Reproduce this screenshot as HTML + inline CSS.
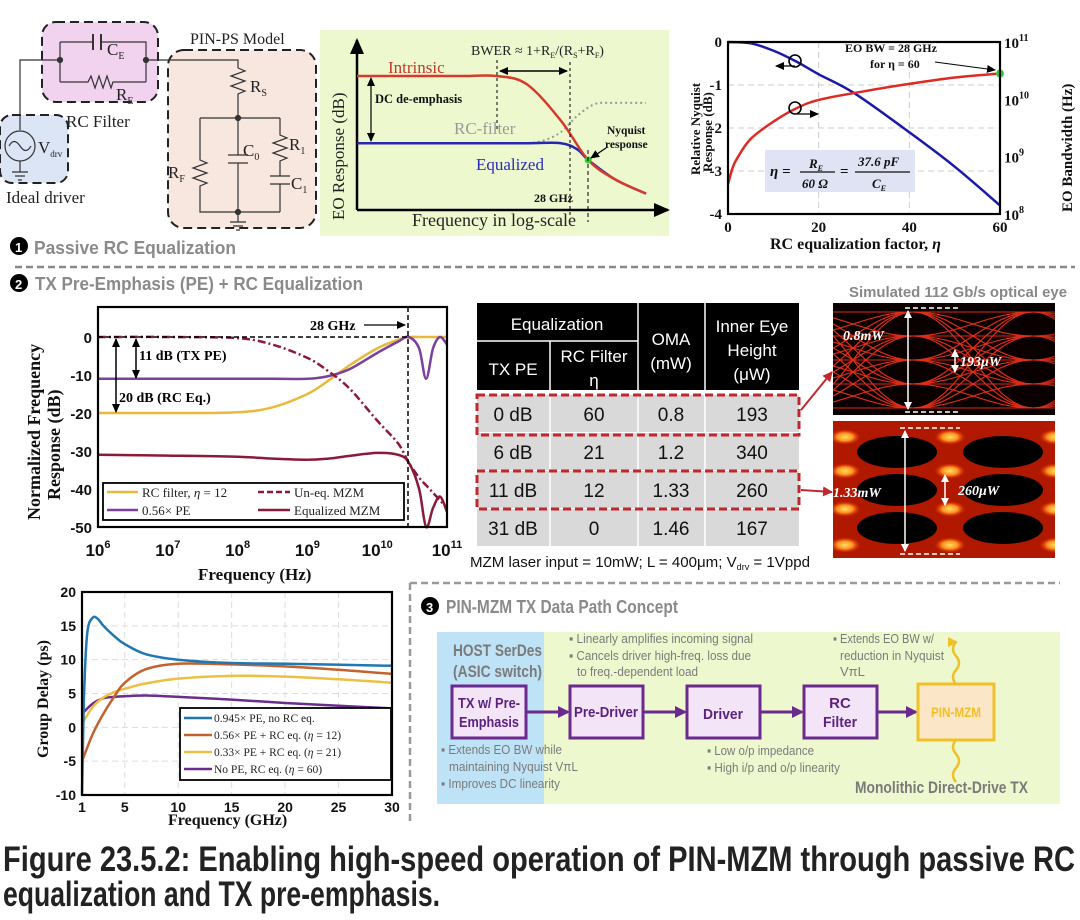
<!DOCTYPE html>
<html><head><meta charset="utf-8">
<style>
html,body{margin:0;padding:0;background:#fff;}
svg{display:block;}
.sf{font-family:"Liberation Serif","DejaVu Serif",serif;}
.ss{font-family:"Liberation Sans Narrow","Liberation Sans","DejaVu Sans Condensed",sans-serif;}
</style></head>
<body>
<svg id="fig" width="1080" height="920" viewBox="0 0 1080 920" xmlns="http://www.w3.org/2000/svg">
<defs>
<marker id="ah" markerUnits="userSpaceOnUse" markerWidth="9" markerHeight="8" refX="8" refY="4" orient="auto-start-reverse"><path d="M0,0 L9,4 L0,8 z" fill="#000"/></marker>
<marker id="ahb" markerUnits="userSpaceOnUse" markerWidth="16" markerHeight="14" refX="14" refY="7" orient="auto"><path d="M0,0 L16,7 L0,14 z" fill="#000"/></marker>
<marker id="ahw" markerUnits="userSpaceOnUse" markerWidth="8" markerHeight="8" refX="7" refY="4" orient="auto-start-reverse"><path d="M0,0 L8,4 L0,8 z" fill="#fff"/></marker>
<marker id="ahr" markerUnits="userSpaceOnUse" markerWidth="10" markerHeight="10" refX="9" refY="5" orient="auto"><path d="M0,0 L10,5 L0,10 z" fill="#c0282d"/></marker>
<marker id="ahp" markerUnits="userSpaceOnUse" markerWidth="12" markerHeight="12" refX="10" refY="6" orient="auto"><path d="M0,0 L12,6 L0,12 z" fill="#6a2a8e"/></marker>
<marker id="ahy" markerUnits="userSpaceOnUse" markerWidth="10" markerHeight="10" refX="8" refY="5" orient="auto"><path d="M0,0 L10,5 L0,10 z" fill="#f0c028"/></marker>
<radialGradient id="eyeglow" cx="50%" cy="50%" r="50%"><stop offset="0" stop-color="#ffe060"/><stop offset="0.5" stop-color="#ff9020"/><stop offset="1" stop-color="#e02000" stop-opacity="0"/></radialGradient>
</defs>

<!-- ============ CIRCUIT ============ -->
<g class="sf" stroke="#333" fill="none" stroke-width="1.2">
  <rect x="42" y="22" width="116" height="80" rx="14" fill="#f1d3ef" stroke="#222" stroke-width="2" stroke-dasharray="9,5"/>
  <rect x="168" y="50" width="148" height="178" rx="16" fill="#f8e7df" stroke="#222" stroke-width="2" stroke-dasharray="9,5"/>
  <rect x="0" y="115" width="68" height="68" rx="12" fill="#dbe5f5" stroke="#222" stroke-width="2" stroke-dasharray="9,5"/>
  <path d="M20,130 V60 H60 M60,42 V60 V82 M60,42 H93 M101,42 H146 V82 M60,82 H88 L91,76 L95,88 L99,76 L103,88 L107,76 L111,88 L113,82 H146 M146,60 H238 V68"/>
  <path d="M93,34 V50 M101,34 V50" stroke-width="2"/>
  <path d="M238,68 L245,71 L231,76 L245,81 L231,86 L245,91 L238,94 V118 M200,118 H280 M200,118 V160 L207,163 L193,168 L207,173 L193,178 L207,183 L200,186 V212 H280 M238,118 V155 M228,155 H248 M228,163 H248 M238,163 V212 M280,118 V135 L287,138 L273,143 L287,148 L273,153 L287,158 L280,161 V176 M270,176 H290 M270,184 H290 M280,184 V212 M238,212 V222 M230,222 H246 M233,226 H243 M236,230 H240"/>
  <circle cx="60" cy="60" r="2.5" fill="#333"/><circle cx="146" cy="60" r="2.5" fill="#333"/><circle cx="238" cy="118" r="2.5" fill="#333"/><circle cx="238" cy="212" r="2.5" fill="#333"/>
  <circle cx="20" cy="146" r="15"/>
  <path d="M9,146 q5,-9 11,0 q6,9 11,0"/>
  <path d="M20,161 V172 M12,172 H28 M15,176 H25 M18,180 H22"/>
  <g fill="#222" stroke="none" font-size="17">
    <text x="107" y="55">C<tspan font-size="10" dy="4">E</tspan></text>
    <text x="116" y="100">R<tspan font-size="10" dy="4">E</tspan></text>
    <text x="66" y="127">RC Filter</text>
    <text x="38" y="153">V<tspan font-size="9" dy="4">drv</tspan></text>
    <text x="6" y="203">Ideal driver</text>
    <text x="190" y="44" font-size="16">PIN-PS Model</text>
    <text x="250" y="92">R<tspan font-size="10" dy="4">S</tspan></text>
    <text x="168" y="178">R<tspan font-size="10" dy="4">F</tspan></text>
    <text x="243" y="156">C<tspan font-size="10" dy="4">0</tspan></text>
    <text x="289" y="150">R<tspan font-size="10" dy="4">1</tspan></text>
    <text x="291" y="189">C<tspan font-size="10" dy="4">1</tspan></text>
  </g>
</g>

<!-- ============ CONCEPT CHART ============ -->
<g class="sf">
  <rect x="320" y="30" width="349" height="206" fill="#eef8cf"/>
  <line x1="357" y1="210" x2="357" y2="40" stroke="#000" stroke-width="2.5" marker-end="url(#ahb)"/>
  <line x1="357" y1="210" x2="668" y2="210" stroke="#000" stroke-width="2.5" marker-end="url(#ahb)"/>
  <g id="conceptSeries"></g>
  <line x1="497" y1="60" x2="497" y2="130" stroke="#000" stroke-dasharray="3,3"/>
  <line x1="570" y1="62" x2="570" y2="218" stroke="#000" stroke-dasharray="3,3"/>
  <line x1="588" y1="150" x2="588" y2="222" stroke="#000" stroke-dasharray="4,3"/>
  <line x1="500" y1="71" x2="567" y2="71" stroke="#000" stroke-width="1.5" marker-end="url(#ah)" marker-start="url(#ah)"/>
  <line x1="371" y1="78" x2="371" y2="141" stroke="#000" stroke-width="1.2" marker-end="url(#ah)" marker-start="url(#ah)"/>
  <line x1="606" y1="148" x2="591" y2="158" stroke="#000" stroke-width="1.2" marker-end="url(#ah)"/>
  <text x="344" y="220" transform="rotate(-90 344 220)" font-size="17" fill="#222">EO Response (dB)</text>
  <text x="412" y="226" font-size="18" fill="#222">Frequency in log-scale</text>
  <text x="471" y="55" font-size="14" fill="#222">BWER ≈ 1+R<tspan font-size="8" dy="3">E</tspan><tspan dy="-3">/(R</tspan><tspan font-size="8" dy="3">S</tspan><tspan dy="-3">+R</tspan><tspan font-size="8" dy="3">F</tspan><tspan dy="-3">)</tspan></text>
  <text x="388" y="73" font-size="17" fill="#c0392b">Intrinsic</text>
  <text x="375" y="103" font-size="12.5" font-weight="bold" fill="#111">DC de-emphasis</text>
  <text x="454" y="134" font-size="17" fill="#999">RC-filter</text>
  <text x="476" y="170" font-size="17" fill="#2a2ab5">Equalized</text>
  <text x="607" y="134" font-size="11.5" font-weight="bold" fill="#111">Nyquist</text>
  <text x="605" y="148" font-size="11.5" font-weight="bold" fill="#111">response</text>
  <text x="534" y="202" font-size="12" font-weight="bold" fill="#111">28 GHz</text>
</g>

<!-- ============ TOP RIGHT CHART ============ -->
<g class="sf">
  <g id="etaGrid"></g>
  <g id="etaSeries"></g>
  <rect x="728" y="42" width="272" height="172" fill="none" stroke="#000" stroke-width="2.2"/>
  <g id="etaTicks" font-weight="bold" font-size="15" fill="#111"></g>
  <rect x="765" y="150" width="150" height="42" fill="#dfe3f4"/>
  <text x="770" y="176" font-size="15" font-style="italic" font-weight="bold" fill="#111">η =</text>
  <text x="809" y="168" font-size="13" font-style="italic" font-weight="bold" fill="#111">R<tspan font-size="8" dy="3">E</tspan></text>
  <line x1="800" y1="172" x2="835" y2="172" stroke="#111" stroke-width="1.2"/>
  <text x="802" y="188" font-size="13" font-style="italic" font-weight="bold" fill="#111">60 Ω</text>
  <text x="840" y="176" font-size="15" font-weight="bold" fill="#111">=</text>
  <text x="858" y="166" font-size="13" font-style="italic" font-weight="bold" fill="#111">37.6 pF</text>
  <line x1="855" y1="172" x2="910" y2="172" stroke="#111" stroke-width="1.2"/>
  <text x="872" y="188" font-size="13" font-style="italic" font-weight="bold" fill="#111">C<tspan font-size="8" dy="3">E</tspan></text>
  <text x="845" y="52" font-size="12" font-weight="bold" fill="#111">EO BW = 28 GHz</text>
  <text x="870" y="68" font-size="12" font-weight="bold" fill="#111">for η = 60</text>
  <line x1="935" y1="62" x2="995" y2="70" stroke="#000" stroke-width="1" marker-end="url(#ah)"/>
  <circle cx="795" cy="61" r="6" fill="none" stroke="#000" stroke-width="1.6"/>
  <line x1="795" y1="66" x2="776" y2="66" stroke="#000" stroke-width="1.2" marker-end="url(#ah)"/>
  <circle cx="795" cy="108" r="6" fill="none" stroke="#000" stroke-width="1.6"/>
  <line x1="797" y1="114" x2="818" y2="114" stroke="#000" stroke-width="1.2" marker-end="url(#ah)"/>
  <text x="700" y="175" transform="rotate(-90 700 175)" font-size="13" font-weight="bold" fill="#111">Relative Nyquist</text>
  <text x="712" y="172" transform="rotate(-90 712 172)" font-size="13" font-weight="bold" fill="#111">Response (dB)</text>
  <text x="1072" y="212" transform="rotate(-90 1072 212)" font-size="15" font-weight="bold" fill="#111">EO Bandwidth (Hz)</text>
  <text x="770" y="249" font-size="16" font-weight="bold" fill="#111">RC equalization factor, <tspan font-style="italic">η</tspan></text>
</g>

<!-- ============ SECTION LABELS ============ -->
<g class="ss" font-weight="bold" fill="#8a8a8a" font-size="18">
  <circle cx="19" cy="246" r="9" fill="#000"/>
  <text x="15" y="252" font-size="13" fill="#fff">1</text>
  <text x="34" y="254" textLength="202" lengthAdjust="spacingAndGlyphs">Passive RC Equalization</text>
  <line x1="15" y1="267" x2="1075" y2="267" stroke="#888" stroke-width="2.5" stroke-dasharray="7,4"/>
  <circle cx="19" cy="283" r="9" fill="#000"/>
  <text x="15" y="289" font-size="13" fill="#fff">2</text>
  <text x="35" y="290" textLength="328" lengthAdjust="spacingAndGlyphs">TX Pre-Emphasis (PE) + RC Equalization</text>
</g>

<!-- ============ FREQ RESPONSE CHART ============ -->
<g class="sf">
  <g id="frSeries"></g>
  <rect x="98" y="307" width="349" height="220" fill="none" stroke="#000" stroke-width="2.2"/>
  <g id="frTicks" font-weight="bold" font-size="15" fill="#111"></g>
  <line x1="408" y1="307" x2="408" y2="527" stroke="#000" stroke-width="1.5" stroke-dasharray="5,3"/>
  <line x1="98" y1="337" x2="408" y2="337" stroke="#000" stroke-width="1.5" stroke-dasharray="5,3"/>
  <text x="310" y="330" font-size="14" font-weight="bold">28 GHz</text>
  <line x1="364" y1="325" x2="405" y2="325" stroke="#000" stroke-width="1.3" marker-end="url(#ah)"/>
  <line x1="136" y1="339" x2="136" y2="378" stroke="#000" stroke-width="1.5" marker-end="url(#ah)" marker-start="url(#ah)"/>
  <line x1="116" y1="339" x2="116" y2="412" stroke="#000" stroke-width="1.5" marker-end="url(#ah)" marker-start="url(#ah)"/>
  <text x="139" y="360" font-size="14" font-weight="bold">11 dB (TX PE)</text>
  <text x="119" y="402" font-size="14" font-weight="bold">20 dB (RC Eq.)</text>
  <rect x="103" y="483" width="301" height="37" fill="#fff" stroke="#000" stroke-width="1.8"/>
  <g font-size="13" fill="#222">
    <line x1="107" y1="492" x2="138" y2="492" stroke="#e8b93a" stroke-width="2.5"/><text x="142" y="497">RC filter, <tspan font-style="italic">η</tspan> = 12</text>
    <line x1="107" y1="510" x2="138" y2="510" stroke="#7b3f9c" stroke-width="2.5"/><text x="142" y="515">0.56× PE</text>
    <line x1="258" y1="492" x2="290" y2="492" stroke="#8b1a3a" stroke-width="2.5" stroke-dasharray="6,3"/><text x="294" y="497">Un-eq. MZM</text>
    <line x1="258" y1="510" x2="290" y2="510" stroke="#8b1a3a" stroke-width="2.5"/><text x="294" y="515">Equalized MZM</text>
  </g>
  <text x="40" y="520" transform="rotate(-90 40 520)" font-size="18" font-weight="bold" fill="#111">Normalized Frequency</text>
  <text x="60" y="500" transform="rotate(-90 60 500)" font-size="18" font-weight="bold" fill="#111">Response (dB)</text>
  <text x="198" y="580" font-size="17" font-weight="bold" fill="#111">Frequency (Hz)</text>
</g>

<!-- ============ TABLE ============ -->
<g class="ss" font-size="17" text-anchor="middle">
  <rect x="477" y="303" width="322" height="87" fill="#000"/>
  <line x1="477" y1="341" x2="638" y2="341" stroke="#fff" stroke-width="1.5"/>
  <line x1="550" y1="341" x2="550" y2="390" stroke="#fff" stroke-width="1.5"/>
  <line x1="638" y1="303" x2="638" y2="390" stroke="#fff" stroke-width="1.5"/>
  <line x1="705" y1="303" x2="705" y2="390" stroke="#fff" stroke-width="1.5"/>
  <g fill="#fff">
    <text x="557" y="330">Equalization</text>
    <text x="513" y="375">TX PE</text>
    <text x="594" y="362">RC Filter</text><text x="594" y="386">η</text>
    <text x="671" y="345">OMA</text><text x="671" y="369">(mW)</text>
    <text x="752" y="332">Inner Eye</text><text x="752" y="356">Height</text><text x="752" y="380">(μW)</text>
  </g>
  <g id="tableRows" fill="#111" font-size="19"></g>
  <rect x="477" y="395" width="322" height="40" fill="none" stroke="#c0282d" stroke-width="3" stroke-dasharray="8,4"/>
  <rect x="477" y="471" width="322" height="38" fill="none" stroke="#c0282d" stroke-width="3" stroke-dasharray="8,4"/>
  <line x1="801" y1="410" x2="832" y2="372" stroke="#c0282d" stroke-width="2" marker-end="url(#ahr)"/>
  <line x1="801" y1="490" x2="832" y2="492" stroke="#c0282d" stroke-width="2" marker-end="url(#ahr)"/>
  <text x="640" y="567" font-size="15" fill="#111" textLength="340" lengthAdjust="spacingAndGlyphs">MZM laser input = 10mW; L = 400μm; V<tspan font-size="9" dy="3">drv</tspan><tspan dy="-3"> = 1Vppd</tspan></text>
</g>

<!-- ============ EYES ============ -->
<g>
  <text x="958" y="297" class="ss" font-size="15" font-weight="bold" fill="#888" text-anchor="middle" textLength="218" lengthAdjust="spacingAndGlyphs">Simulated 112 Gb/s optical eye</text>
  <clipPath id="c1"><rect x="833" y="303" width="222" height="112"/></clipPath>
  <clipPath id="c2"><rect x="833" y="421" width="222" height="137"/></clipPath>
  <rect x="833" y="303" width="222" height="112" fill="#0a0000"/>
  <g id="eye1" clip-path="url(#c1)"></g>
  <rect x="833" y="421" width="222" height="137" fill="#b01800"/>
  <g id="eye2" clip-path="url(#c2)"></g>
  <g stroke="#fff" stroke-width="1.5" fill="none">
    <path d="M905,308 H960 M905,412 H960" stroke-dasharray="5,3"/>
    <line x1="908" y1="311" x2="908" y2="409" marker-start="url(#ahw)" marker-end="url(#ahw)"/>
    <line x1="955" y1="350" x2="955" y2="372" marker-start="url(#ahw)" marker-end="url(#ahw)"/>
    <path d="M900,428 H960 M900,554 H960" stroke-dasharray="5,3"/>
    <line x1="905" y1="431" x2="905" y2="551" marker-start="url(#ahw)" marker-end="url(#ahw)"/>
    <line x1="945" y1="475" x2="945" y2="505" marker-start="url(#ahw)" marker-end="url(#ahw)"/>
  </g>
  <g class="sf" font-style="italic" font-weight="bold" font-size="14" fill="#fff">
    <text x="843" y="340">0.8mW</text><text x="960" y="366">193μW</text>
    <text x="833" y="497">1.33mW</text><text x="958" y="495">260μW</text>
  </g>
</g>

<!-- ============ GROUP DELAY CHART ============ -->
<g class="sf">
  <g id="gdGrid"></g>
  <g id="gdSeries"></g>
  <rect x="82" y="592" width="310" height="203" fill="none" stroke="#000" stroke-width="2.2"/>
  <g id="gdTicks" font-weight="bold" font-size="14" fill="#111" class="ss"></g>
  <rect x="180" y="708" width="211" height="72" fill="#fff" stroke="#000" stroke-width="1.8"/>
  <g font-size="11.5" fill="#222">
    <line x1="184" y1="718" x2="212" y2="718" stroke="#1f77b4" stroke-width="2.5"/><text x="214" y="722">0.945× PE, no RC eq.</text>
    <line x1="184" y1="735" x2="212" y2="735" stroke="#c2622d" stroke-width="2.5"/><text x="214" y="739">0.56× PE + RC eq. (<tspan font-style="italic">η</tspan> = 12)</text>
    <line x1="184" y1="752" x2="212" y2="752" stroke="#ecc043" stroke-width="2.5"/><text x="214" y="756">0.33× PE + RC eq. (<tspan font-style="italic">η</tspan> = 21)</text>
    <line x1="184" y1="769" x2="212" y2="769" stroke="#6b2d8c" stroke-width="2.5"/><text x="214" y="773">No PE, RC eq. (<tspan font-style="italic">η</tspan> = 60)</text>
  </g>
  <text x="48" y="758" transform="rotate(-90 48 758)" font-size="16" font-weight="bold" fill="#111">Group Delay (ps)</text>
  <text x="168" y="825" font-size="16" font-weight="bold" fill="#111">Frequency (GHz)</text>
</g>

<!-- ============ DATA PATH ============ -->
<g class="ss">
  <path d="M410,583 H1060 M410,583 V825" stroke="#999" stroke-width="2.5" stroke-dasharray="7,4" fill="none"/>
  <circle cx="430" cy="606" r="9" fill="#000"/>
  <text x="426" y="612" font-size="13" font-weight="bold" fill="#fff">3</text>
  <text x="446" y="613" font-size="18" font-weight="bold" fill="#8a8a8a" textLength="232" lengthAdjust="spacingAndGlyphs">PIN-MZM TX Data Path Concept</text>
  <rect x="437" y="632" width="107" height="172" fill="#bfe3f6"/>
  <rect x="544" y="632" width="516" height="172" fill="#eef8cf"/>
  <g fill="#7a7a7a" font-weight="bold" font-size="17">
    <text x="453" y="656" textLength="89" lengthAdjust="spacingAndGlyphs">HOST SerDes</text>
    <text x="453" y="677" textLength="89" lengthAdjust="spacingAndGlyphs">(ASIC switch)</text>
    <text x="855" y="793" textLength="173" lengthAdjust="spacingAndGlyphs">Monolithic Direct-Drive TX</text>
  </g>
  <g fill="#7a7a7a" font-size="13">
    <text x="569" y="643" textLength="184" lengthAdjust="spacingAndGlyphs">▪ Linearly amplifies incoming signal</text>
    <text x="569" y="660" textLength="182" lengthAdjust="spacingAndGlyphs">▪ Cancels driver high-freq. loss due</text>
    <text x="577" y="676" textLength="121" lengthAdjust="spacingAndGlyphs">to freq.-dependent load</text>
    <text x="833" y="643" textLength="101" lengthAdjust="spacingAndGlyphs">▪ Extends EO BW w/</text>
    <text x="840" y="660" textLength="104" lengthAdjust="spacingAndGlyphs">reduction in Nyquist</text>
    <text x="840" y="676">VπL</text>
    <text x="441" y="754" textLength="121" lengthAdjust="spacingAndGlyphs">▪ Extends EO BW while</text>
    <text x="449" y="771" textLength="129" lengthAdjust="spacingAndGlyphs">maintaining Nyquist VπL</text>
    <text x="441" y="788" textLength="119" lengthAdjust="spacingAndGlyphs">▪ Improves DC linearity</text>
    <text x="707" y="755" textLength="107" lengthAdjust="spacingAndGlyphs">▪ Low o/p impedance</text>
    <text x="707" y="772" textLength="133" lengthAdjust="spacingAndGlyphs">▪ High i/p and o/p linearity</text>
  </g>
  <g stroke="#6a2a8e" stroke-width="3" fill="none">
    <line x1="526" y1="712" x2="568" y2="712" marker-end="url(#ahp)"/>
    <line x1="643" y1="712" x2="685" y2="712" marker-end="url(#ahp)"/>
    <line x1="760" y1="712" x2="802" y2="712" marker-end="url(#ahp)"/>
    <line x1="877" y1="712" x2="916" y2="712" marker-end="url(#ahp)"/>
  </g>
  <g stroke="#6a2a8e" stroke-width="3" fill="#f4e4f8">
    <rect x="452" y="686" width="74" height="52"/>
    <rect x="570" y="686" width="73" height="52"/>
    <rect x="687" y="686" width="73" height="52"/>
    <rect x="804" y="686" width="73" height="52"/>
  </g>
  <rect x="918" y="684" width="76" height="56" fill="#fbe7c8" stroke="#f0c028" stroke-width="3"/>
  <path d="M956,684 q-6,-7 0,-14 q6,-7 0,-14 q-6,-7 0,-14 V642" stroke="#f0c028" stroke-width="2.5" fill="none" marker-end="url(#ahy)"/>
  <path d="M956,740 q-6,7 0,14 q6,7 0,14 q-6,7 0,14" stroke="#f0c028" stroke-width="2.5" fill="none"/>
  <g font-weight="bold" font-size="15" fill="#5b2380" text-anchor="middle">
    <text x="489" y="708" textLength="62" lengthAdjust="spacingAndGlyphs">TX w/ Pre-</text><text x="489" y="727" textLength="60" lengthAdjust="spacingAndGlyphs">Emphasis</text>
    <text x="606" y="717" textLength="64" lengthAdjust="spacingAndGlyphs">Pre-Driver</text>
    <text x="723" y="719" textLength="40" lengthAdjust="spacingAndGlyphs">Driver</text>
    <text x="840" y="708">RC</text><text x="840" y="727" textLength="34" lengthAdjust="spacingAndGlyphs">Filter</text>
    <text x="956" y="717" fill="#f0c028" font-size="14" textLength="50" lengthAdjust="spacingAndGlyphs">PIN-MZM</text>
  </g>
</g>

<!-- ============ CAPTION ============ -->
<g class="ss" font-weight="bold" font-size="29" fill="#222">
  <g transform="translate(3,871) scale(1,1.2)"><text x="0" y="0" textLength="1072" lengthAdjust="spacingAndGlyphs">Figure 23.5.2: Enabling high-speed operation of PIN-MZM through passive RC</text></g>
  <g transform="translate(3,906) scale(1,1.2)"><text x="0" y="0" textLength="437" lengthAdjust="spacingAndGlyphs">equalization and TX pre-emphasis.</text></g>
</g>
</svg>

<script>
// ---------- data: concept chart (arbitrary units: x 0..8.5 log-freq, y dB) ----------
const conceptX = [0, 3, 4.1, 5, 6, 6.8, 7.6, 8.5];
const conceptIntrinsic = [0, 0, 0, -1.5, -8, -15, -18.5, -21];
const conceptEqXs = [0, 3, 5, 6, 6.5, 6.8, 7.6, 8.5];
const conceptEqualized = [-12, -12, -12, -12, -13.2, -15, -18.5, -21];
const conceptFilterX = [4, 5, 5.5, 6, 6.5, 7, 7.5, 8.5];
const conceptFilter = [-12, -12, -11.5, -10, -7, -5, -4.8, -4.8];
// ---------- data: eta chart ----------
const etaX = [0, 5, 10, 15, 20, 28, 40, 50, 60];
const etaNyquistDb = [0, -0.03, -0.2, -0.45, -0.75, -1.2, -2.1, -2.9, -3.8];
const etaBwX = [0, 1, 2, 5, 10, 15, 20, 30, 40, 50, 60];
const etaBwLog = [8.52, 8.8, 8.97, 9.31, 9.61, 9.84, 9.99, 10.14, 10.27, 10.38, 10.45];
const etaXTicks = [0, 20, 40, 60];
const etaYTicks = [0, -1, -2, -3, -4];
const etaRTicks = [8, 9, 10, 11];
// ---------- data: frequency response (log10 Hz, dB) ----------
const frX = [6, 7, 8, 8.5, 9, 9.3, 9.6, 10, 10.3, 10.45, 10.6, 10.7, 10.8, 10.9, 11];
const frRC = [-20, -20, -19.8, -18.5, -15, -11.5, -7.5, -3, -0.7, 0, 0, 0, 0, 0, 0];
const frPE = [-11, -11, -11, -11, -11, -10.3, -8.5, -4.2, -1.2, 0, -3, -11, -3, 0, -2];
const frUneq = [0, 0, -0.3, -2, -5.5, -9, -13.5, -22, -28, -33, -37, -39, -41, -43, -45];
const frEq = [-31, -31.2, -31.5, -32, -32.3, -32, -31.3, -30.5, -31, -33, -40, -50, -45, -42, -46];
const frXTicks = [6, 7, 8, 9, 10, 11];
const frYTicks = [0, -10, -20, -30, -40, -50];
// ---------- data: group delay (GHz, ps) ----------
const gdXBlue = [1, 1.2, 1.5, 2, 2.5, 3, 4, 5, 7, 10, 15, 20, 30];
const gdBlue = [-10, 5, 14, 16.2, 16, 15, 13.5, 12.3, 10.8, 10, 9.5, 9.4, 9.1];
const gdX = [1, 2, 3, 4, 5, 7, 10, 15, 20, 25, 30];
const gdOrange = [-5, -1, 2, 4.5, 6.6, 8.6, 9.4, 9.3, 9, 8.5, 7.9];
const gdYellow = [0.5, 3, 4.4, 5.2, 5.7, 6.5, 7.2, 7.6, 7.5, 7.1, 6.6];
const gdPurple = [2, 3.5, 4.3, 4.5, 4.6, 4.7, 4.5, 4.1, 3.6, 3.2, 2.8];
const gdXTicks = [1, 5, 10, 15, 20, 25, 30];
const gdYTicks = [20, 15, 10, 5, 0, -5, -10];
// ---------- data: table ----------
const tblTxPe = ["0 dB", "6 dB", "11 dB", "31 dB"];
const tblEta = ["60", "21", "12", "0"];
const tblOma = ["0.8", "1.2", "1.33", "1.46"];
const tblEye = ["193", "340", "260", "167"];

const NS = "http://www.w3.org/2000/svg";
function mk(tag, attrs, parent) {
  const e = document.createElementNS(NS, tag);
  for (const k in attrs) e.setAttribute(k, attrs[k]);
  parent.appendChild(e);
  return e;
}
function smooth(pts) {
  let d = "M" + pts[0][0].toFixed(1) + "," + pts[0][1].toFixed(1);
  for (let i = 0; i < pts.length - 1; i++) {
    const p0 = pts[Math.max(0, i - 1)], p1 = pts[i], p2 = pts[i + 1], p3 = pts[Math.min(pts.length - 1, i + 2)];
    const c1x = p1[0] + (p2[0] - p0[0]) / 6, c1y = p1[1] + (p2[1] - p0[1]) / 6;
    const c2x = p2[0] - (p3[0] - p1[0]) / 6, c2y = p2[1] - (p3[1] - p1[1]) / 6;
    d += " C" + c1x.toFixed(1) + "," + c1y.toFixed(1) + " " + c2x.toFixed(1) + "," + c2y.toFixed(1) + " " + p2[0].toFixed(1) + "," + p2[1].toFixed(1);
  }
  return d;
}
function series(xs, ys, fx, fy) { return xs.map((x, i) => [fx(x), fy(ys[i])]); }

// ---- concept chart ----
const cx = v => 357 + v * 34, cy = v => 76 - v * 5.6;
const cg = document.getElementById("conceptSeries");
let p = mk("path", {d: smooth(series(conceptFilterX, conceptFilter, cx, cy)), stroke: "#999", "stroke-width": 2, "stroke-dasharray": "2,3", fill: "none"}, cg);


p = mk("path", {d: smooth(series(conceptEqXs, conceptEqualized, cx, cy)), stroke: "#2626b0", "stroke-width": 2.5, fill: "none"}, cg);


p = mk("path", {d: smooth(series(conceptX, conceptIntrinsic, cx, cy)), stroke: "#d83a2a", "stroke-width": 2.5, fill: "none"}, cg);


p = mk("circle", {cx: cx(6.8), cy: cy(-15), r: 3.5, fill: "#3c3"}, cg);



// ---- eta chart ----
const ex = v => 728 + v * 272 / 60, eyl = v => 42 - v * 43, eyr = v => 42 + (11 - v) * 172 / 3;
const eg = document.getElementById("etaGrid"), es = document.getElementById("etaSeries"), et = document.getElementById("etaTicks");
etaXTicks.forEach(t => {
  if (t > 0 && t < 60) mk("line", {x1: ex(t), y1: 42, x2: ex(t), y2: 214, stroke: "#ccc", "stroke-dasharray": "6,4"}, eg);
  const tx = mk("text", {x: ex(t), y: 232, "text-anchor": "middle"}, et);
  tx.textContent = t;
  
  
});
etaYTicks.forEach(t => {
  if (t < 0 && t > -4) mk("line", {x1: 728, y1: eyl(t), x2: 1000, y2: eyl(t), stroke: "#ccc", "stroke-dasharray": "6,4"}, eg);
  const tx = mk("text", {x: 722, y: eyl(t) + 5, "text-anchor": "end"}, et);
  tx.textContent = t;
  
  
});
etaRTicks.forEach(t => {
  const tx = mk("text", {x: 1004, y: eyr(t) + 6}, et);
  tx.innerHTML = "10<tspan font-size='10' dy='-7'>" + t + "</tspan>";
  
  
});
p = mk("path", {d: smooth(series(etaX, etaNyquistDb, ex, eyl)), stroke: "#1a1aa8", "stroke-width": 2.5, fill: "none"}, es);


p = mk("path", {d: smooth(series(etaBwX, etaBwLog, ex, eyr)), stroke: "#dd2a22", "stroke-width": 2.5, fill: "none"}, es);


p = mk("circle", {cx: ex(etaBwX[etaBwX.length - 1]), cy: eyr(etaBwLog[etaBwLog.length - 1]), r: 4, fill: "#3c3"}, es);



// ---- freq response ----
const fx = v => 98 + (v - 6) * 69.8, fy = v => 337 - v * 3.8;
const fs = document.getElementById("frSeries"), ft = document.getElementById("frTicks");
frXTicks.forEach(t => {
  const tx = mk("text", {x: fx(t), y: 556, "text-anchor": "middle", class: "ss", "font-size": "17"}, ft);
  tx.innerHTML = "10<tspan font-size='11' dy='-8'>" + t + "</tspan>";
  
  
});
frYTicks.forEach(t => {
  const tx = mk("text", {x: 92, y: fy(t) + 6, "text-anchor": "end", class: "ss"}, ft);
  tx.textContent = t;
  
  
});
p = mk("path", {d: smooth(series(frX, frRC, fx, fy)), stroke: "#e8b93a", "stroke-width": 2.5, fill: "none"}, fs);


p = mk("path", {d: smooth(series(frX, frPE, fx, fy)), stroke: "#7b3f9c", "stroke-width": 2.5, fill: "none"}, fs);


p = mk("path", {d: smooth(series(frX, frUneq, fx, fy)), stroke: "#8b1a3a", "stroke-width": 2.5, "stroke-dasharray": "8,3,2,3", fill: "none"}, fs);


p = mk("path", {d: smooth(series(frX, frEq, fx, fy)), stroke: "#8b1a3a", "stroke-width": 2.5, fill: "none"}, fs);



// ---- group delay ----
const gx = v => 82 + (v - 1) * 310 / 29, gy = v => 592 + (20 - v) * 203 / 30;
const gg = document.getElementById("gdGrid"), gs = document.getElementById("gdSeries"), gt = document.getElementById("gdTicks");
gdXTicks.forEach(t => {
  if (t > 1 && t < 30) mk("line", {x1: gx(t), y1: 592, x2: gx(t), y2: 795, stroke: "#ddd", "stroke-dasharray": "6,4"}, gg);
  const tx = mk("text", {x: gx(t), y: 812, "text-anchor": "middle"}, gt);
  tx.textContent = t;
  
  
});
gdYTicks.forEach(t => {
  if (t < 20 && t > -10) mk("line", {x1: 82, y1: gy(t), x2: 392, y2: gy(t), stroke: "#ddd", "stroke-dasharray": "6,4"}, gg);
  const tx = mk("text", {x: 76, y: gy(t) + 5, "text-anchor": "end"}, gt);
  tx.textContent = t;
  
  
});
p = mk("path", {d: smooth(series(gdX, gdPurple, gx, gy)), stroke: "#6b2d8c", "stroke-width": 2.5, fill: "none"}, gs);


p = mk("path", {d: smooth(series(gdX, gdYellow, gx, gy)), stroke: "#ecc043", "stroke-width": 2.5, fill: "none"}, gs);


p = mk("path", {d: smooth(series(gdX, gdOrange, gx, gy)), stroke: "#c2622d", "stroke-width": 2.5, fill: "none"}, gs);


p = mk("path", {d: smooth(series(gdXBlue, gdBlue, gx, gy)), stroke: "#1f77b4", "stroke-width": 2.5, fill: "none"}, gs);



// ---- table rows ----
const tr = document.getElementById("tableRows");
const colX = [513, 594, 671, 752];
tblTxPe.forEach((v, i) => {
  const y0 = 395 + i * 38;
  mk("rect", {x: 477, y: y0, width: 322, height: 37, fill: "#d9d9d9"}, tr);
  [v, tblEta[i], tblOma[i], tblEye[i]].forEach((s, j) => {
    const tx = mk("text", {x: colX[j], y: y0 + 26}, tr);
    tx.textContent = s;
    
    
  });
});
[550, 638, 705].forEach(x => mk("line", {x1: x, y1: 395, x2: x, y2: 547, stroke: "#fff", "stroke-width": 1.5}, tr));

// ---- eyes (decorative traces) ----
const e1 = document.getElementById("eye1");
const lev1 = [312, 336, 360, 384, 408];
lev1.forEach(a => lev1.forEach(b => {
  [-1, 0, 1].forEach(k => {
    const x0 = 833 + k * 120 - 40;
    mk("path", {d: `M${x0},${a} C${x0+45},${a} ${x0+75},${b} ${x0+120},${b} C${x0+165},${b} ${x0+195},${a} ${x0+240},${a}`, stroke: "#e0301a", "stroke-width": 1.1, fill: "none", opacity: 0.8}, e1);
  });
}));
const e2 = document.getElementById("eye2");
[897, 1003].forEach(xc => [452, 490, 528].forEach(yc => {
  mk("ellipse", {cx: xc, cy: yc, rx: 40, ry: 16, fill: "#000"}, e2);
}));
[845, 950, 1055].forEach(xc => [437, 471, 509, 545].forEach(yc => {
  mk("ellipse", {cx: xc, cy: yc, rx: 16, ry: 8, fill: "url(#eyeglow)"}, e2);
}));
</script>
</body></html>
